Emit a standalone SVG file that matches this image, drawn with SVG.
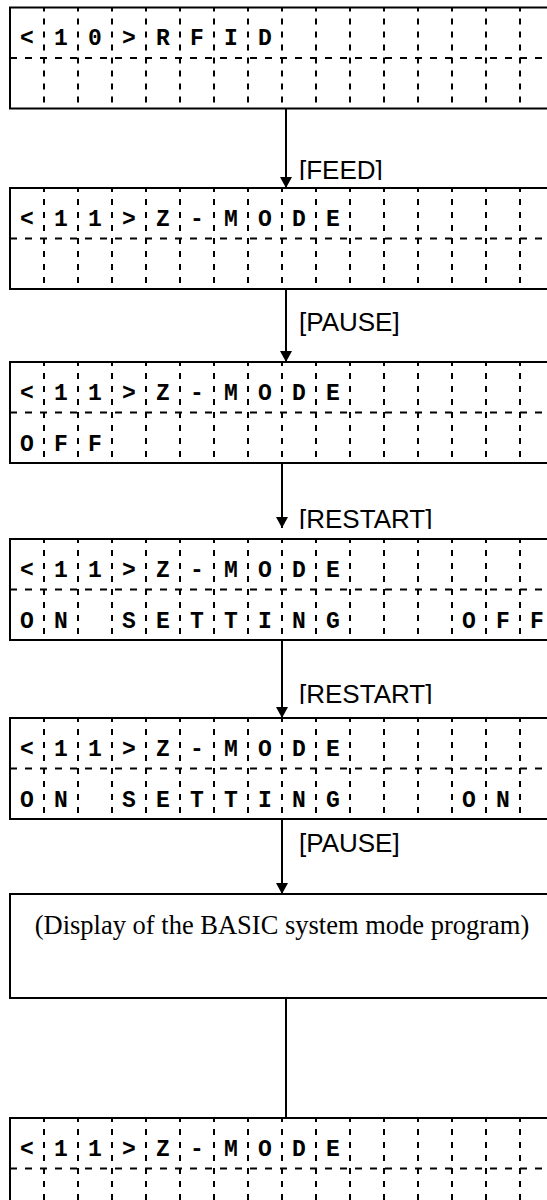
<svg xmlns="http://www.w3.org/2000/svg" xmlns:xlink="http://www.w3.org/1999/xlink" width="547" height="1200" viewBox="0 0 547 1200">
<style>
.frame{fill:#fff;stroke:#000;stroke-width:2}
.vd{stroke:#000;stroke-width:2;stroke-dasharray:6 7;stroke-dashoffset:2}
.hd{stroke:#000;stroke-width:2;stroke-dasharray:7 8}
.lcd{font-family:"Liberation Mono","Courier New",monospace;font-weight:bold;font-size:23px;text-anchor:middle;fill:#000}
.lbl{font-family:"Liberation Sans",Arial,sans-serif;font-size:26px;fill:#000}
.note{font-family:"Liberation Serif","Times New Roman",serif;font-size:26.5px;fill:#000;text-anchor:middle}
.conn{stroke:#000;stroke-width:2;fill:none}
</style>
<defs>
<marker id="ah" viewBox="0 0 11 12" markerWidth="11" markerHeight="12" refX="11" refY="6" orient="auto" markerUnits="userSpaceOnUse">
<path d="M0,0 L11,6 L0,12 z" fill="#000"/>
</marker>
<g id="lcd">
<rect class="frame" x="10" y="0" width="544" height="101"/>
<line class="hd" x1="10" y1="50.5" x2="554" y2="50.5"/>
<g class="vd">
<line x1="44" y1="0" x2="44" y2="101"/><line x1="78" y1="0" x2="78" y2="101"/>
<line x1="112" y1="0" x2="112" y2="101"/><line x1="146" y1="0" x2="146" y2="101"/>
<line x1="180" y1="0" x2="180" y2="101"/><line x1="214" y1="0" x2="214" y2="101"/>
<line x1="248" y1="0" x2="248" y2="101"/><line x1="282" y1="0" x2="282" y2="101"/>
<line x1="316" y1="0" x2="316" y2="101"/><line x1="350" y1="0" x2="350" y2="101"/>
<line x1="384" y1="0" x2="384" y2="101"/><line x1="418" y1="0" x2="418" y2="101"/>
<line x1="452" y1="0" x2="452" y2="101"/><line x1="486" y1="0" x2="486" y2="101"/>
<line x1="520" y1="0" x2="520" y2="101"/>
</g>
</g>
<clipPath id="cFeed"><rect x="290" y="140" width="200" height="40"/></clipPath>
<clipPath id="cRes1"><rect x="290" y="495" width="200" height="34"/></clipPath>
<clipPath id="cRes2"><rect x="290" y="670" width="200" height="34"/></clipPath>
</defs>

<g id="connectors">
<line class="conn" x1="286" y1="108" x2="286" y2="188" marker-end="url(#ah)"/>
<line class="conn" x1="286" y1="289" x2="286" y2="362" marker-end="url(#ah)"/>
<line class="conn" x1="282" y1="463" x2="282" y2="528" marker-end="url(#ah)"/>
<line class="conn" x1="282" y1="640" x2="282" y2="718" marker-end="url(#ah)"/>
<line class="conn" x1="282" y1="819" x2="282" y2="894" marker-end="url(#ah)"/>
<line class="conn" x1="286" y1="998" x2="286" y2="1118"/>
<text class="lbl" x="299" y="179" clip-path="url(#cFeed)">[FEED]</text>
<text class="lbl" x="299" y="331">[PAUSE]</text>
<text class="lbl" x="299" y="528" clip-path="url(#cRes1)">[RESTART]</text>
<text class="lbl" x="299" y="703" clip-path="url(#cRes2)">[RESTART]</text>
<text class="lbl" x="299" y="852">[PAUSE]</text>
</g>

<g id="node1">
<use xlink:href="#lcd" href="#lcd" y="7.5"/>
<text class="lcd" x="27 61 95 129 163 197 231 265" y="45">&lt;10&gt;RFID</text>
</g>

<g id="node2">
<use xlink:href="#lcd" href="#lcd" y="188"/>
<text class="lcd" x="27 61 95 129 163 197 231 265 299 333" y="225.5">&lt;11&gt;Z-MODE</text>
</g>

<g id="node3">
<use xlink:href="#lcd" href="#lcd" y="362"/>
<text class="lcd" x="27 61 95 129 163 197 231 265 299 333" y="399.5">&lt;11&gt;Z-MODE</text>
<text class="lcd" x="27 61 95" y="451">OFF</text>
</g>

<g id="node4">
<use xlink:href="#lcd" href="#lcd" y="539"/>
<text class="lcd" x="27 61 95 129 163 197 231 265 299 333" y="576.5">&lt;11&gt;Z-MODE</text>
<text class="lcd" x="27 61" y="628">ON</text>
<text class="lcd" x="129 163 197 231 265 299 333" y="628">SETTING</text>
<text class="lcd" x="469 503 537" y="628">OFF</text>
</g>

<g id="node5">
<use xlink:href="#lcd" href="#lcd" y="718"/>
<text class="lcd" x="27 61 95 129 163 197 231 265 299 333" y="755.5">&lt;11&gt;Z-MODE</text>
<text class="lcd" x="27 61" y="807">ON</text>
<text class="lcd" x="129 163 197 231 265 299 333" y="807">SETTING</text>
<text class="lcd" x="469 503" y="807">ON</text>
</g>

<g id="node6">
<rect class="frame" x="10" y="894" width="544" height="104"/>
<text class="note" x="282" y="934">(Display of the BASIC system mode program)</text>
</g>

<g id="node7">
<use xlink:href="#lcd" href="#lcd" y="1118"/>
<text class="lcd" x="27 61 95 129 163 197 231 265 299 333" y="1155.5">&lt;11&gt;Z-MODE</text>
</g>
</svg>
